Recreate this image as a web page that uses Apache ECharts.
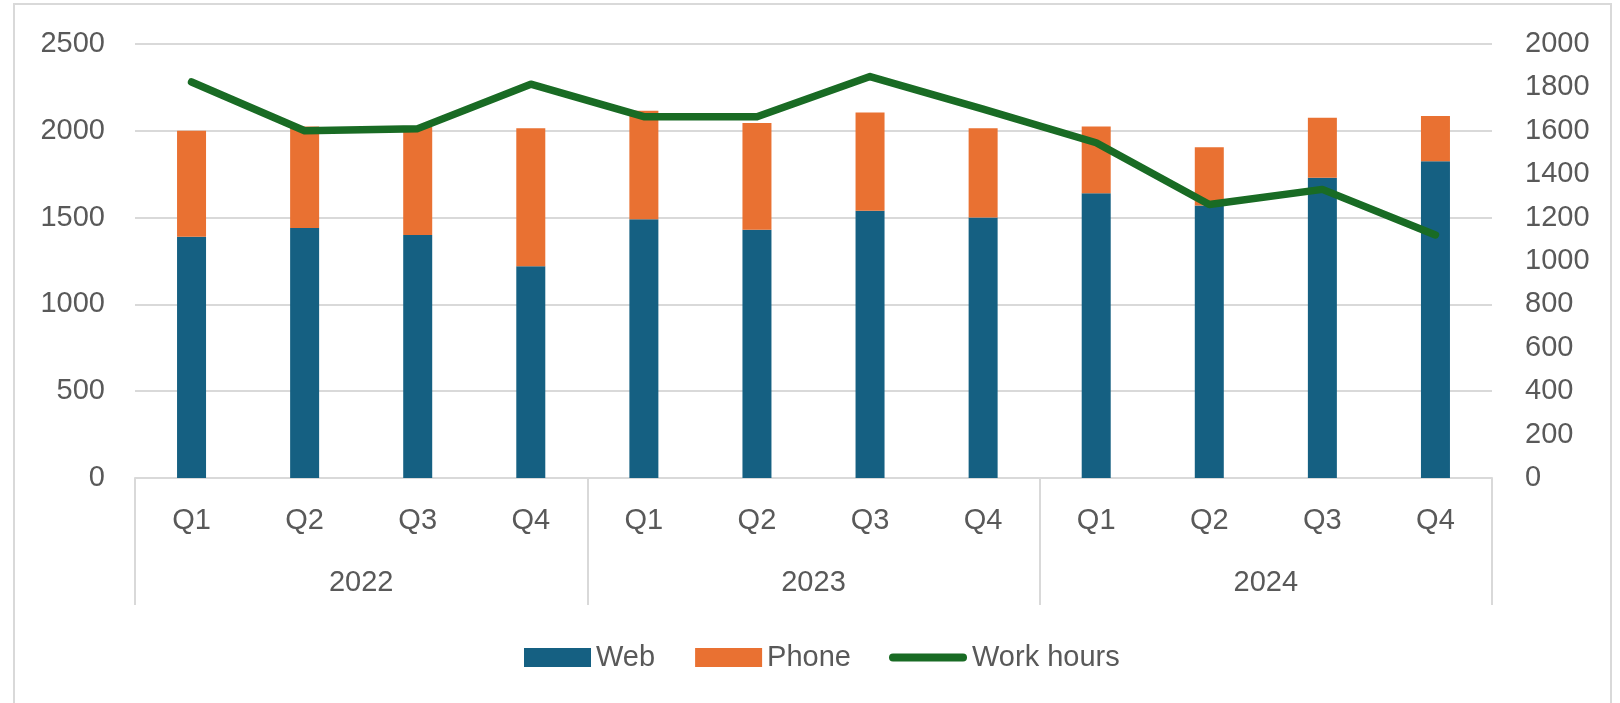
<!DOCTYPE html>
<html>
<head>
<meta charset="utf-8">
<script src="https://cdn.jsdelivr.net/npm/echarts@6/dist/echarts.min.js"></script>
<style>
  html, body { margin: 0; padding: 0; background: #fff; }
  #chart-root { width: 1620px; height: 703px; }
</style>
</head>
<body>
<div id="chart-root"></div>
<script>
const quarters = ['Q1', 'Q2', 'Q3', 'Q4', 'Q1', 'Q2', 'Q3', 'Q4', 'Q1', 'Q2', 'Q3', 'Q4'];
const years = ['2022', '2023', '2024'];
const web = [1390, 1440, 1400, 1220, 1490, 1430, 1540, 1500, 1640, 1570, 1730, 1825];
const phone = [610, 585, 625, 795, 625, 615, 565, 515, 385, 335, 345, 260];
const workHours = [1825, 1600, 1610, 1815, 1665, 1665, 1850, 1700, 1545, 1260, 1330, 1120];
const leftTicks = { min: 0, max: 2500, interval: 500 };
const rightTicks = { min: 0, max: 2000, interval: 200 };

(function () {
  const root = document.getElementById('chart-root');
  const chart = echarts.init(root);
  const font = "'Liberation Sans', Arial, sans-serif";
  const fontSize = 29;
  const textColor = '#595959';
  const lineColor = '#d9d9d9';
  const plain = function (v) { return String(v); };

  chart.setOption({
    animation: false,
    textStyle: { fontFamily: font },
    graphic: [{
      type: 'rect',
      shape: { x: 14, y: 4, width: 1597, height: 720 },
      style: { fill: 'none', stroke: lineColor, lineWidth: 2 },
      silent: true
    }],
    grid: { left: 135, right: 128, top: 44, bottom: 225, containLabel: false },
    legend: [{
      left: 519,
      top: 638,
      itemWidth: 67,
      itemHeight: 19,
      itemGap: 40,
      textStyle: { fontSize: fontSize, color: textColor, fontFamily: font },
      data: [
        { name: 'Web', icon: 'rect' },
        { name: 'Phone', icon: 'rect' }
      ]
    }, {
      left: 884,
      top: 638,
      itemWidth: 78,
      itemHeight: 19,
      textStyle: { fontSize: fontSize, color: textColor, fontFamily: font },
      data: [
        { name: 'Work hours', icon: 'path://M4,0 L74,0 A4,4 0 0 1 74,8 L4,8 A4,4 0 0 1 4,0 Z' }
      ]
    }],
    xAxis: [{
      type: 'category',
      data: quarters,
      position: 'bottom',
      axisLine: { lineStyle: { color: lineColor, width: 2 } },
      axisTick: { show: false },
      axisLabel: { color: textColor, fontSize: fontSize, margin: 28, fontFamily: font }
    }, {
      type: 'category',
      data: years,
      position: 'bottom',
      axisLine: { show: false },
      axisTick: { show: true, length: 127, lineStyle: { color: lineColor, width: 2 } },
      axisLabel: { color: textColor, fontSize: fontSize, margin: 90, fontFamily: font }
    }],
    yAxis: [{
      type: 'value',
      min: leftTicks.min,
      max: leftTicks.max,
      interval: leftTicks.interval,
      axisLine: { show: false },
      axisTick: { show: false },
      splitLine: { lineStyle: { color: lineColor, width: 2 } },
      axisLabel: { color: textColor, fontSize: fontSize, margin: 30, fontFamily: font, formatter: plain }
    }, {
      type: 'value',
      min: rightTicks.min,
      max: rightTicks.max,
      interval: rightTicks.interval,
      position: 'right',
      axisLine: { show: false },
      axisTick: { show: false },
      splitLine: { show: false },
      axisLabel: { color: textColor, fontSize: fontSize, margin: 33, fontFamily: font, formatter: plain }
    }],
    series: [{
      name: 'Web',
      type: 'bar',
      stack: 'contacts',
      barWidth: 29,
      itemStyle: { color: '#156082' },
      data: web
    }, {
      name: 'Phone',
      type: 'bar',
      stack: 'contacts',
      barWidth: 29,
      itemStyle: { color: '#E97132' },
      data: phone
    }, {
      name: 'Work hours',
      type: 'line',
      yAxisIndex: 1,
      symbol: 'none',
      itemStyle: { color: '#196B24' },
      lineStyle: { color: '#196B24', width: 7.5, cap: 'round', join: 'round' },
      data: workHours
    }]
  });
}());
</script>
</body>
</html>
